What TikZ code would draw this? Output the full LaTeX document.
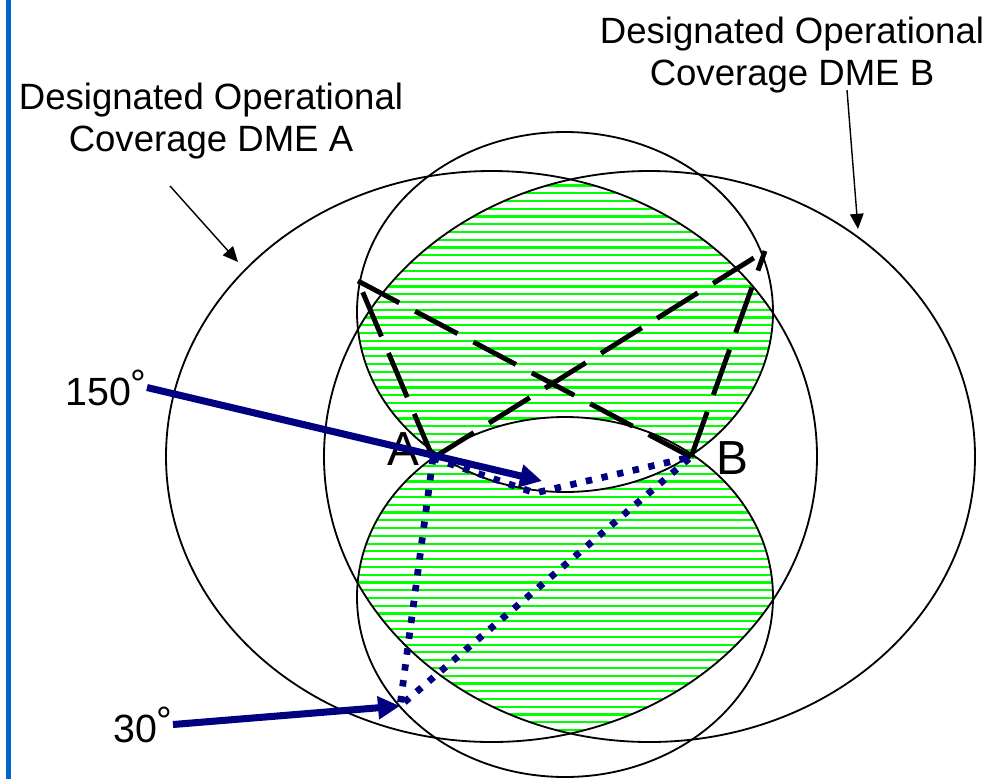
\documentclass[tikz,border=0pt]{standalone}
\usepackage{fontspec}
\setmainfont{Liberation Sans}
\usepackage{tikz}
\usetikzlibrary{arrows.meta}
\definecolor{navyblue}{rgb}{0.0, 0.0, 0.5}
\definecolor{hatchgreen}{rgb}{0.0, 1.0, 0.0}
\definecolor{framebar}{rgb}{0.0, 0.4, 0.8}
\tikzset{
  coverage/.style={line width=1.3pt},
  fixline/.style={line width=3.5pt, dash pattern=on 1.2cm off 0.45cm},
  pathdots/.style={navyblue, line width=4.8pt, dash pattern=on 0.16cm off 0.24cm},
  anglearrow/.style={navyblue, line width=5pt, -{Triangle[length=0.55cm, width=0.55cm]}},
  callout/.style={line width=1pt, -{Triangle[length=0.38cm, width=0.34cm]}},
  hatch/.style={hatchgreen, line width=0.055cm},
  bigtext/.style={font=\fontsize{26}{30}\selectfont},
  angletext/.style={font=\fontsize{28}{34}\selectfont, anchor=base east, inner sep=0pt},
  station/.style={font=\fontsize{34}{40}\selectfont, anchor=base, inner sep=0pt},
}
\newcommand{\degmark}{\raisebox{0.2em}{°}}

\begin{document}
\begin{tikzpicture}[x=0.025cm, y=-0.025cm]
      \useasboundingbox (0,0) rectangle (996,779);
      \coordinate (CA) at (491.5,456.5);
      \coordinate (CB) at (649.5,456.5);
      \coordinate (CU) at (565,312);
      \coordinate (CL) at (565,597);
      \coordinate (A) at (433,458);
      \coordinate (B) at (691,457);
      \coordinate (TL) at (358,281);
      \coordinate (TR) at (765,251);
      \coordinate (P1) at (535,493);
      \coordinate (P2) at (400,706);
      \coordinate (tip150) at (542,481);
      \coordinate (tailA) at (170,186);
      \coordinate (headA) at (238,262);
      \coordinate (tailB) at (847,90);
      \coordinate (headB) at (858,229);

      % left frame bar
      \fill [framebar] (6,0) rectangle (11,779);

      % hatched area: inside both coverages, in one circle but not both
      \begin{scope}
        \clip (CA) ellipse [x radius=325.5, y radius=285.5];
        \clip (CB) ellipse [x radius=325.5, y radius=285.5];
        \begin{scope}
          \clip (CU) ellipse [x radius=208, y radius=180];
          \foreach \y in {123.26,131.03,...,500}
            \draw [hatch] (150,\y) -- (990,\y);
        \end{scope}
        \begin{scope}
          \clip (CL) ellipse [x radius=208, y radius=180];
          \foreach \y in {411.5,419.27,...,780}
            \draw [hatch] (150,\y) -- (990,\y);
        \end{scope}
        \begin{scope}
          \clip (CU) ellipse [x radius=208, y radius=180];
          \fill [white] (CL) ellipse [x radius=208, y radius=180];
        \end{scope}
      \end{scope}

      \draw [coverage] (CA) ellipse [x radius=325.5, y radius=285.5];
      \draw [coverage] (CB) ellipse [x radius=325.5, y radius=285.5];
      \draw [coverage] (CU) ellipse [x radius=208, y radius=180];
      \draw [coverage] (CL) ellipse [x radius=208, y radius=180];

      \draw [fixline] (A) -- (TL);
      \draw [fixline] (A) -- (TR);
      \draw [fixline] (B) -- (TL);
      \draw [fixline] (B) -- (TR);

      \draw [pathdots] (A) -- (P1) -- (B);
      \draw [pathdots] (A) -- (P2) -- (B);

      \node [bigtext, align=center] (labA) at (211,121) {Designated Operational\\Coverage DME A};
      \node [bigtext, align=center] (labB) at (792,55) {Designated Operational\\Coverage DME B};
      \node [station] (nA) at (403,465) {A};
      \node [station] (nB) at (732,474) {B};
      \node [angletext] (l150) at (147,405) {150\degmark};
      \node [angletext] (l30) at (173,742) {30\degmark};

      \draw [callout] (tailA) -- (headA);
      \draw [callout] (tailB) -- (headB);
      \draw [anglearrow] (l150.east) -- (tip150);
      \draw [anglearrow] (l30.east) -- (P2);
\end{tikzpicture}
\end{document}
